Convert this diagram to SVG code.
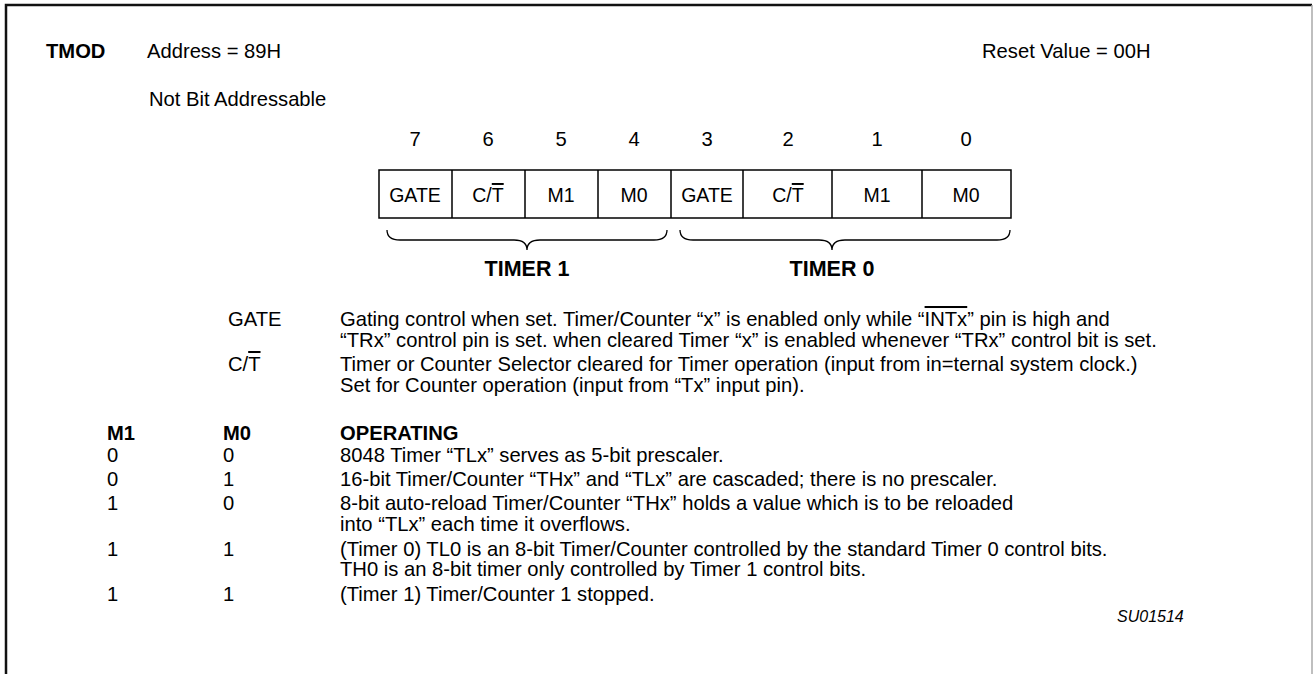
<svg xmlns="http://www.w3.org/2000/svg" width="1313" height="674" viewBox="0 0 1313 674">
<style>
text{font-family:"Liberation Sans",Arial,sans-serif;font-size:20.2px;fill:#000}
.b{font-weight:bold}
.c{text-anchor:middle}
.cell{font-size:19.5px}
.tm{font-size:21.5px}
.ol{text-decoration:overline}
.sm{font-size:16px;font-style:italic}
.box{fill:none;stroke:#000;stroke-width:1.5}
.brace{fill:none;stroke:#000;stroke-width:1.3}
</style>
<rect width="1313" height="674" fill="#fff"/>
<g id="frame">
<path d="M6,674 V5 H1312" fill="none" stroke="#111" stroke-width="2.5"/>
<line x1="1312" y1="5" x2="1312" y2="674" stroke="#aaa" stroke-width="1.5"/>
</g>
<g id="header">
<text class="b" x="46" y="58">TMOD</text>
<text x="147" y="58">Address = 89H</text>
<text x="982" y="58">Reset Value = 00H</text>
<text x="149" y="106">Not Bit Addressable</text>
</g>
<g id="bitnumbers">
<text class="c" x="415" y="146">7</text>
<text class="c" x="488" y="146">6</text>
<text class="c" x="561" y="146">5</text>
<text class="c" x="634" y="146">4</text>
<text class="c" x="707" y="146">3</text>
<text class="c" x="788" y="146">2</text>
<text class="c" x="877" y="146">1</text>
<text class="c" x="966" y="146">0</text>
</g>
<g id="register">
<rect class="box" x="379" y="170" width="632" height="48"/>
<path class="box" d="M452,170V218M525,170V218M598,170V218M671,170V218M743,170V218M832,170V218M922,170V218"/>
<text class="c cell" x="415" y="202">GATE</text>
<text class="c cell" x="488" y="202">C/<tspan class="ol">T</tspan></text>
<text class="c cell" x="561" y="202">M1</text>
<text class="c cell" x="634" y="202">M0</text>
<text class="c cell" x="707" y="202">GATE</text>
<text class="c cell" x="788" y="202">C/<tspan class="ol">T</tspan></text>
<text class="c cell" x="877" y="202">M1</text>
<text class="c cell" x="966" y="202">M0</text>
</g>
<g id="connectors">
<path class="brace" d="M387,230 Q387,240 400,240 L514,240 Q527,240 527,250 Q527,240 540,240 L654,240 Q667,240 667,230"/>
<path class="brace" d="M680,230 Q680,240 693,240 L819,240 Q832,240 832,250 Q832,240 845,240 L997,240 Q1010,240 1010,230"/>
</g>
<g id="timers">
<text class="b c tm" x="527" y="276">TIMER 1</text>
<text class="b c tm" x="832" y="276">TIMER 0</text>
</g>
<g id="descriptions">
<text x="228" y="326">GATE</text>
<text x="340" y="326">Gating control when set. Timer/Counter “x” is enabled only while “<tspan class="ol">INTx</tspan>” pin is high and</text>
<text x="340" y="347">“TRx” control pin is set. when cleared Timer “x” is enabled whenever “TRx” control bit is set.</text>
<text x="228" y="371">C/<tspan class="ol">T</tspan></text>
<text x="340" y="371">Timer or Counter Selector cleared for Timer operation (input from in=ternal system clock.)</text>
<text x="340" y="392">Set for Counter operation (input from “Tx” input pin).</text>
</g>
<g id="modes">
<text class="b" x="107" y="440">M1</text>
<text class="b" x="223" y="440">M0</text>
<text class="b" x="340" y="440">OPERATING</text>
<text x="107" y="462">0</text><text x="223" y="462">0</text>
<text x="340" y="462">8048 Timer “TLx” serves as 5-bit prescaler.</text>
<text x="107" y="486">0</text><text x="223" y="486">1</text>
<text x="340" y="486">16-bit Timer/Counter “THx” and “TLx” are cascaded; there is no prescaler.</text>
<text x="107" y="510">1</text><text x="223" y="510">0</text>
<text x="340" y="510">8-bit auto-reload Timer/Counter “THx” holds a value which is to be reloaded</text>
<text x="340" y="531">into “TLx” each time it overflows.</text>
<text x="107" y="556">1</text><text x="223" y="556">1</text>
<text x="340" y="556">(Timer 0) TL0 is an 8-bit Timer/Counter controlled by the standard Timer 0 control bits.</text>
<text x="340" y="576">TH0 is an 8-bit timer only controlled by Timer 1 control bits.</text>
<text x="107" y="601">1</text><text x="223" y="601">1</text>
<text x="340" y="601">(Timer 1) Timer/Counter 1 stopped.</text>
<text class="sm" x="1117" y="622">SU01514</text>
</g>
</svg>
